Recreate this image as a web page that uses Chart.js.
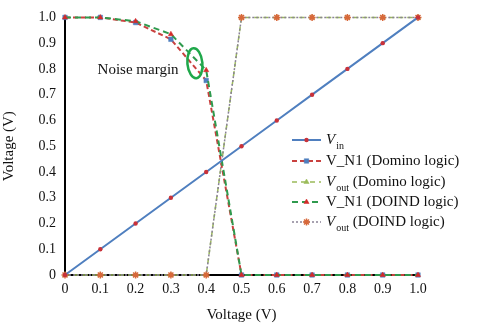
<!DOCTYPE html>
<html>
<head>
<meta charset="utf-8">
<script src="https://cdn.jsdelivr.net/npm/chart.js@4.4.1/dist/chart.umd.min.js"></script>
<style>
  html, body { margin: 0; padding: 0; background: #fff; }
  #wrap { width: 478px; height: 324px; position: relative; }
</style>
</head>
<body>
<div id="wrap"><canvas id="c" width="478" height="324"></canvas></div>
<script>
// Input sweep (V)
const sweep = [0, 0.1, 0.2, 0.3, 0.4, 0.5, 0.6, 0.7, 0.8, 0.9, 1.0];
// Node / output voltages (V)
const vIn          = [0, 0.1, 0.2, 0.3, 0.4, 0.5, 0.6, 0.7, 0.8, 0.9, 1.0];
const vN1Domino    = [1.0, 1.0, 0.98, 0.915, 0.755, 0, 0, 0, 0, 0, 0];
const vOutDomino   = [0, 0, 0, 0, 0, 1.0, 1.0, 1.0, 1.0, 1.0, 1.0];
const vN1Doind     = [1.0, 1.0, 0.985, 0.935, 0.795, 0, 0, 0, 0, 0, 0];
const vOutDoind    = [0, 0, 0, 0, 0, 1.0, 1.0, 1.0, 1.0, 1.0, 1.0];
// Axis tick labels
const xTickLabels = ['0', '0.1', '0.2', '0.3', '0.4', '0.5', '0.6', '0.7', '0.8', '0.9', '1.0'];
const yTickLabels = ['0', '0.1', '0.2', '0.3', '0.4', '0.5', '0.6', '0.7', '0.8', '0.9', '1.0'];
// Legend entries: [main, subscript, rest, italic main]
const legendParts = [
  ['V', 'in', '', true],
  ['V_N1 (Domino logic)', '', '', false],
  ['V', 'out', ' (Domino logic)', true],
  ['V_N1 (DOIND logic)', '', '', false],
  ['V', 'out', ' (DOIND logic)', true]
];
const noteText = 'Noise margin';

const SERIF = '"Liberation Serif", "Times New Roman", serif';

function pts(ys) { return sweep.map((x, i) => ({ x: x, y: ys[i] })); }

const datasets = [
  { data: pts(vIn), borderColor: '#4f7fbf', borderWidth: 2, pointStyle: 'circle',
    pointRadius: 2.2, pointBorderWidth: 0, pointBackgroundColor: '#c8323a', pointBorderColor: '#c8323a', order: 0 },
  { data: pts(vN1Domino), borderColor: '#c9413f', borderWidth: 2, borderDash: [5, 3], pointStyle: 'rect',
    pointRadius: 3.2, pointBorderWidth: 0.5, pointBackgroundColor: '#4f7fbf', pointBorderColor: '#4f7fbf', order: 2 },
  { data: pts(vOutDomino), borderColor: '#9bbb59', borderWidth: 1.5, borderDash: [5, 4], pointStyle: 'triangle',
    pointRadius: 3, pointBorderWidth: 0.5, pointBackgroundColor: '#9bbb59', pointBorderColor: '#9bbb59', order: 4 },
  { data: pts(vN1Doind), borderColor: '#2f9a4e', borderWidth: 2, borderDash: [6, 4], pointStyle: 'triangle',
    pointRadius: 3, pointBorderWidth: 0.5, pointBackgroundColor: '#d42a2a', pointBorderColor: '#d42a2a', order: 1 },
  { data: pts(vOutDoind), borderColor: '#8a8296', borderWidth: 1.5, borderDash: [2, 2], pointStyle: 'star',
    pointRadius: 3.5, pointBorderWidth: 1.5, pointBackgroundColor: '#d8683a', pointBorderColor: '#d8683a', order: 3 }
];
datasets.forEach(d => { d.fill = false; d.tension = 0; d.clip = false; });

// Custom legend with subscripts, plus the noise-margin note
const decorations = {
  id: 'decorations',
  afterDraw(chart) {
    const ctx = chart.ctx;
    const xs = chart.scales.x, ys = chart.scales.y;
    ctx.save();
    // note + ellipse
    ctx.font = '15px ' + SERIF;
    ctx.fillStyle = '#111';
    ctx.textAlign = 'center';
    ctx.textBaseline = 'middle';
    ctx.fillText(noteText, xs.getPixelForValue(0.207), ys.getPixelForValue(0.795));
    ctx.beginPath();
    ctx.ellipse(xs.getPixelForValue(0.368), ys.getPixelForValue(0.822), 7.5, 15, -0.1, 0, Math.PI * 2);
    ctx.strokeStyle = '#1fa84a';
    ctx.lineWidth = 2.5;
    ctx.stroke();

    // legend
    const x0 = 292, x1 = 321, tx = 326;
    const rowY = [140, 161, 182, 202, 222];
    chart.data.datasets.forEach((ds, i) => {
      const y = rowY[i];
      ctx.save();
      ctx.strokeStyle = ds.borderColor;
      ctx.lineWidth = ds.borderWidth;
      ctx.setLineDash(ds.borderDash || []);
      ctx.beginPath(); ctx.moveTo(x0, y); ctx.lineTo(x1, y); ctx.stroke();
      ctx.setLineDash([]);
      ctx.fillStyle = ds.pointBackgroundColor;
      ctx.strokeStyle = ds.pointBorderColor;
      ctx.lineWidth = ds.pointBorderWidth;
      Chart.helpers.drawPoint(ctx, {
        pointStyle: ds.pointStyle, radius: ds.pointRadius, rotation: 0,
        borderWidth: ds.pointBorderWidth
      }, (x0 + x1) / 2, y);
      ctx.restore();

      const [main, sub, rest, ital] = legendParts[i];
      ctx.fillStyle = '#111';
      ctx.textAlign = 'left';
      ctx.textBaseline = 'middle';
      let cx = tx;
      ctx.font = (ital ? 'italic ' : '') + '15px ' + SERIF;
      ctx.fillText(main, cx, y);
      cx += ctx.measureText(main).width + 1;
      if (sub) {
        ctx.font = '10px ' + SERIF;
        ctx.fillText(sub, cx, y + 6);
        cx += ctx.measureText(sub).width;
      }
      if (rest) {
        ctx.font = '15px ' + SERIF;
        ctx.fillText(rest, cx, y);
      }
    });
    ctx.restore();
  }
};

new Chart(document.getElementById('c'), {
  type: 'line',
  data: { datasets: datasets },
  options: {
    responsive: false,
    animation: false,
    devicePixelRatio: 1,
    layout: { padding: { top: 17, right: 60, bottom: 0, left: 0 } },
    plugins: { legend: { display: false }, tooltip: { enabled: false } },
    scales: {
      x: {
        type: 'linear', min: 0, max: 1,
        afterFit(s) { s.height = 49; },
        afterBuildTicks(s) { s.ticks = sweep.map(v => ({ value: v })); },
        grid: { display: true, drawOnChartArea: false, drawTicks: false },
        border: { display: true, color: '#000', width: 2 },
        ticks: {
          padding: 6, color: '#111', font: { family: SERIF, size: 14 },
          callback: (v, i) => xTickLabels[i]
        },
        title: { display: true, text: 'Voltage (V)', color: '#111',
                 font: { family: SERIF, size: 15 }, padding: { top: 4, bottom: 0 } }
      },
      y: {
        type: 'linear', min: 0, max: 1,
        afterFit(s) { s.width = 65; },
        afterBuildTicks(s) { s.ticks = sweep.map(v => ({ value: v })); },
        grid: { display: true, drawOnChartArea: false, drawTicks: false },
        border: { display: true, color: '#000', width: 2 },
        ticks: {
          padding: 9, color: '#111', font: { family: SERIF, size: 14 },
          callback: (v, i) => yTickLabels[i]
        },
        title: { display: true, text: 'Voltage (V)', color: '#111',
                 font: { family: SERIF, size: 15 }, padding: { top: 0, bottom: 4 } }
      }
    }
  },
  plugins: [decorations]
});
</script>
</body>
</html>
